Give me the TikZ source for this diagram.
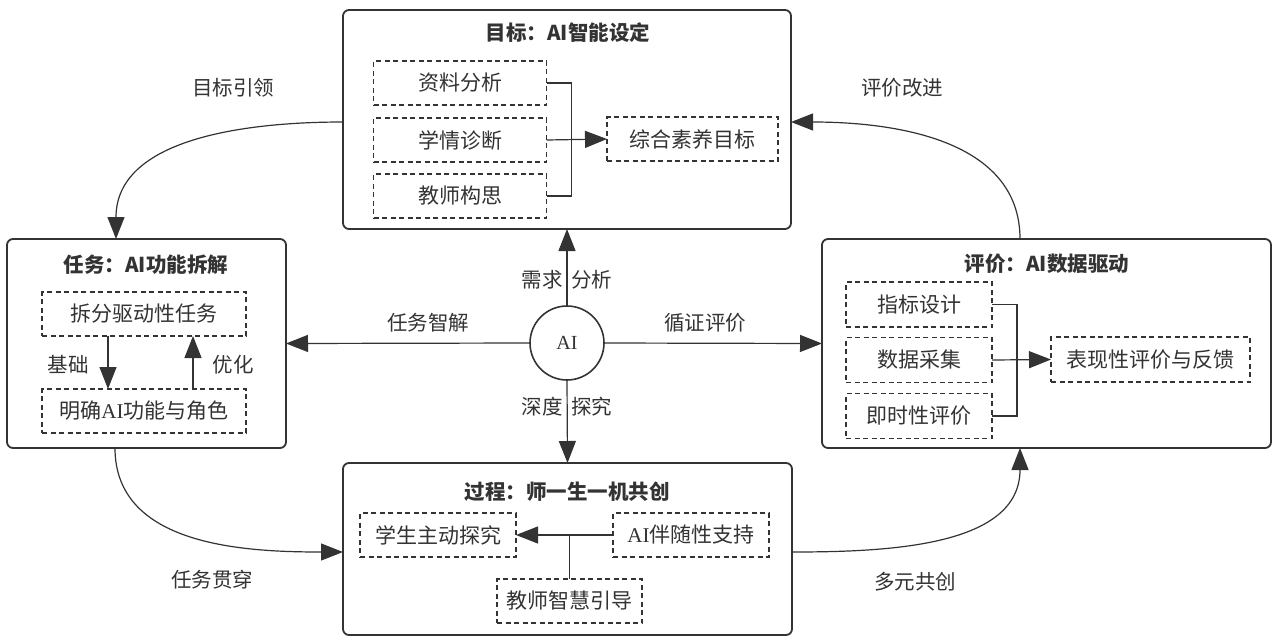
\documentclass[tikz,border=0pt]{standalone}
\usepackage{fontspec}
\setmainfont{Liberation Serif}
\newfontfamily\cjk{Noto Sans CJK SC}
\newfontfamily\latf{Liberation Serif}
\usetikzlibrary{arrows.meta}
\definecolor{ink}{HTML}{333333}
\newcommand\lat[1]{{\latf #1}}
\tikzset{
  every node/.style={text=ink},
  outerbox/.style={draw=ink, line width=1.8pt, rounded corners=6pt, inner sep=0pt, outer sep=0pt},
  dbox/.style={draw=ink, line width=1.1pt, dash pattern=on 5pt off 3.5pt, inner sep=0pt, outer sep=0pt,
     font=\cjk\fontsize{21}{24}\selectfont},
  ttl/.style={font=\cjk\bfseries\fontsize{20.5}{24}\selectfont, inner sep=0pt},
  lbl/.style={font=\cjk\fontsize{20.5}{24}\selectfont, inner sep=0pt},
  ln/.style={draw=ink, line width=1.2pt},
  arr/.style={ln, -{Triangle[length=22pt,width=17pt]}},
}
\begin{document}
\begin{tikzpicture}[x=1pt,y=-1pt]
\useasboundingbox (0,0) rectangle (1276,640);
\fill[white] (0,0) rectangle (1276,640);
% outer boxes
\node[outerbox, minimum width=448pt, minimum height=219pt] (top) at (567,119.5) {};
\node[outerbox, minimum width=279pt, minimum height=209pt] (left) at (146.5,343.5) {};
\node[outerbox, minimum width=449pt, minimum height=209pt] (right) at (1046.5,343.5) {};
\node[outerbox, minimum width=449pt, minimum height=172pt] (bottom) at (567.5,549) {};
% titles
\node[ttl] (ttop) at (568,33) {目标：AI智能设定};
\node[ttl] (tleft) at (146,265) {任务：AI功能拆解};
\node[ttl] (tright) at (1047,264) {评价：AI数据驱动};
\node[ttl] (tbottom) at (567,492) {过程：师一生一机共创};
% top box
\node[dbox, minimum width=173pt, minimum height=44pt] (a1) at (460,83) {资料分析};
\node[dbox, minimum width=173pt, minimum height=44pt] (a2) at (460,140) {学情诊断};
\node[dbox, minimum width=173pt, minimum height=44pt] (a3) at (460,196) {教师构思};
\node[dbox, minimum width=171pt, minimum height=44pt] (goal) at (692.5,139) {综合素养目标};
\draw[ln] (a1.east) -- ++(25,0) |- (a3.east);
\draw[arr] (a2.east) -- (goal.west);
% left box
\node[dbox, minimum width=204pt, minimum height=44pt] (t1) at (144,314) {拆分驱动性任务};
\node[dbox, minimum width=204pt, minimum height=44pt] (t2) at (144,411) {明确\lat{AI}功能与角色};
\draw[arr] ([xshift=-36pt]t1.south) -- ([xshift=-36pt]t2.north);
\draw[arr] ([xshift=49pt]t2.north) -- ([xshift=49pt]t1.south);
\node[lbl] (jc) at (68,365) {基础};
\node[lbl] (yh) at (233,365) {优化};
% right box
\node[dbox, minimum width=146pt, minimum height=45pt] (e1) at (919,304.5) {指标设计};
\node[dbox, minimum width=146pt, minimum height=45pt] (e2) at (919,360) {数据采集};
\node[dbox, minimum width=146pt, minimum height=45pt] (e3) at (919,416) {即时性评价};
\node[dbox, minimum width=199pt, minimum height=45pt] (fb) at (1150.5,359.5) {表现性评价与反馈};
\draw[ln] (e1.east) -- ++(25,0) |- (e3.east);
\draw[arr] (e2.east) -- (fb.west);
% bottom box
\node[dbox, minimum width=156pt, minimum height=44pt] (p1) at (438,535) {学生主动探究};
\node[dbox, minimum width=156pt, minimum height=44pt] (p2) at (691,535) {\lat{AI}伴随性支持};
\node[dbox, minimum width=145pt, minimum height=44pt] (p3) at (569.5,601) {教师智慧引导};
\draw[arr] (p2.west) -- (p1.east);
\draw[ln] (p3.north) -- (p3.north |- p1.east);
% center
\node[draw=ink, line width=1.6pt, circle, minimum size=74pt, inner sep=0pt, font=\latf\fontsize{20}{24}\selectfont] (ai) at (567,343) {AI};
\draw[arr] (ai.north) -- (top.south);
\draw[arr] (ai.south) -- (bottom.north);
\draw[arr] (ai.east) -- (right.west);
\draw[arr] (ai.west) -- (left.east);
\node[lbl, anchor=east] (xq) at (563,280) {需求};
\node[lbl, anchor=west] (fx) at (571,280) {分析};
\node[lbl, anchor=east] (sd) at (563,407) {深度};
\node[lbl, anchor=west] (tj) at (571,407) {探究};
\node[lbl] (rwzj) at (428,323) {任务智解};
\node[lbl] (xzpj) at (705,323) {循证评价};
% curved connectors
\draw[arr] ([yshift=-2.5pt]top.west) to[out=180,in=90] ([xshift=109pt]left.north west);
\draw[arr] ([xshift=198pt]right.north west) to[out=90,in=0] ([yshift=-2.5pt]top.east);
\draw[arr] ([xshift=108pt]left.south west) to[out=-90,in=180] ([yshift=-3pt]bottom.west);
\draw[arr] ([yshift=-3pt]bottom.east) to[out=0,in=-90] ([xshift=198pt]right.south west);
\node[lbl] (mbyl) at (233,88) {目标引领};
\node[lbl] (pjgj) at (902,88) {评价改进};
\node[lbl] (rwgc) at (212,580) {任务贯穿};
\node[lbl] (dygc) at (915,582) {多元共创};
\end{tikzpicture}
\end{document}
